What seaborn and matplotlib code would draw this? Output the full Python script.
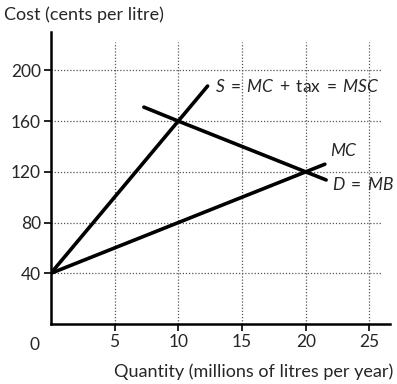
import matplotlib
matplotlib.use("Agg")
import matplotlib.pyplot as plt
import seaborn as sns
import pandas as pd

sns.set_style("white")
plt.rcParams['font.family'] = ['Lato', 'DejaVu Sans']
plt.rcParams['mathtext.fontset'] = 'custom'
plt.rcParams['mathtext.rm'] = 'Lato'
plt.rcParams['mathtext.it'] = 'Lato:italic'

# Data
s_qty = [0, 10, 12.3]
s_cost = [40, 160, 187.6]
mc_qty = [0, 20, 21.5]
mc_cost = [40, 120, 126]
d_qty = [7.3, 10, 20, 21.6]
d_cost = [171, 160, 120, 113.6]
x_ticks = [5, 10, 15, 20, 25]
y_ticks = [40, 80, 120, 160, 200]

fig = plt.figure(figsize=(3.97, 3.84), dpi=100)
ax = fig.add_axes([0.128, 0.156, 0.854, 0.760])

# dotted grid
ax.vlines(x_ticks, 0, 222, colors='#555555', linestyles=(0, (1, 1.5)), linewidth=0.9, zorder=1)
ax.hlines(y_ticks, 0, 25.9, colors='#555555', linestyles=(0, (1, 1.5)), linewidth=0.9, zorder=1)

for q, c in [(s_qty, s_cost), (mc_qty, mc_cost), (d_qty, d_cost)]:
    df = pd.DataFrame({'q': q, 'c': c})
    sns.lineplot(data=df, x='q', y='c', ax=ax, color='black', linewidth=2.6,
                 sort=False, estimator=None, zorder=3)

ax.set_xlim(0, 26.6)
ax.set_ylim(0, 230)
ax.set_xticks(x_ticks)
ax.set_yticks(y_ticks)
ax.tick_params(axis='both', direction='out', length=5, width=1.2, labelsize=12.5,
               color='black', pad=2, bottom=True, left=True)
for sp in ['top', 'right']:
    ax.spines[sp].set_visible(False)
for sp in ['left', 'bottom']:
    ax.spines[sp].set_linewidth(1.8)
    ax.spines[sp].set_color('black')
ax.set_xlabel('')
ax.set_ylabel('')

fig.text(4/397, 1 - 15/384, 'Cost (cents per litre)', fontsize=13, va='center', ha='left')
fig.text(393/397, 1 - 372/384, 'Quantity (millions of litres per year)', fontsize=13, va='center', ha='right')
fig.text(34/397, 1 - 345/384, '0', fontsize=12.5, va='center', ha='center')

ax.text(12.9, 187, r'$\mathit{S}\;=\;\mathit{MC}\;+\;\mathrm{tax}\;=\;\mathit{MSC}$', fontsize=12.5, va='center', ha='left')
ax.text(21.9, 137, r'$\mathit{MC}$', fontsize=12.5, va='center', ha='left')
ax.text(22.1, 110, r'$\mathit{D}\;=\;\mathit{MB}$', fontsize=12.5, va='center', ha='left')

fig.savefig('out.png', dpi=100)
